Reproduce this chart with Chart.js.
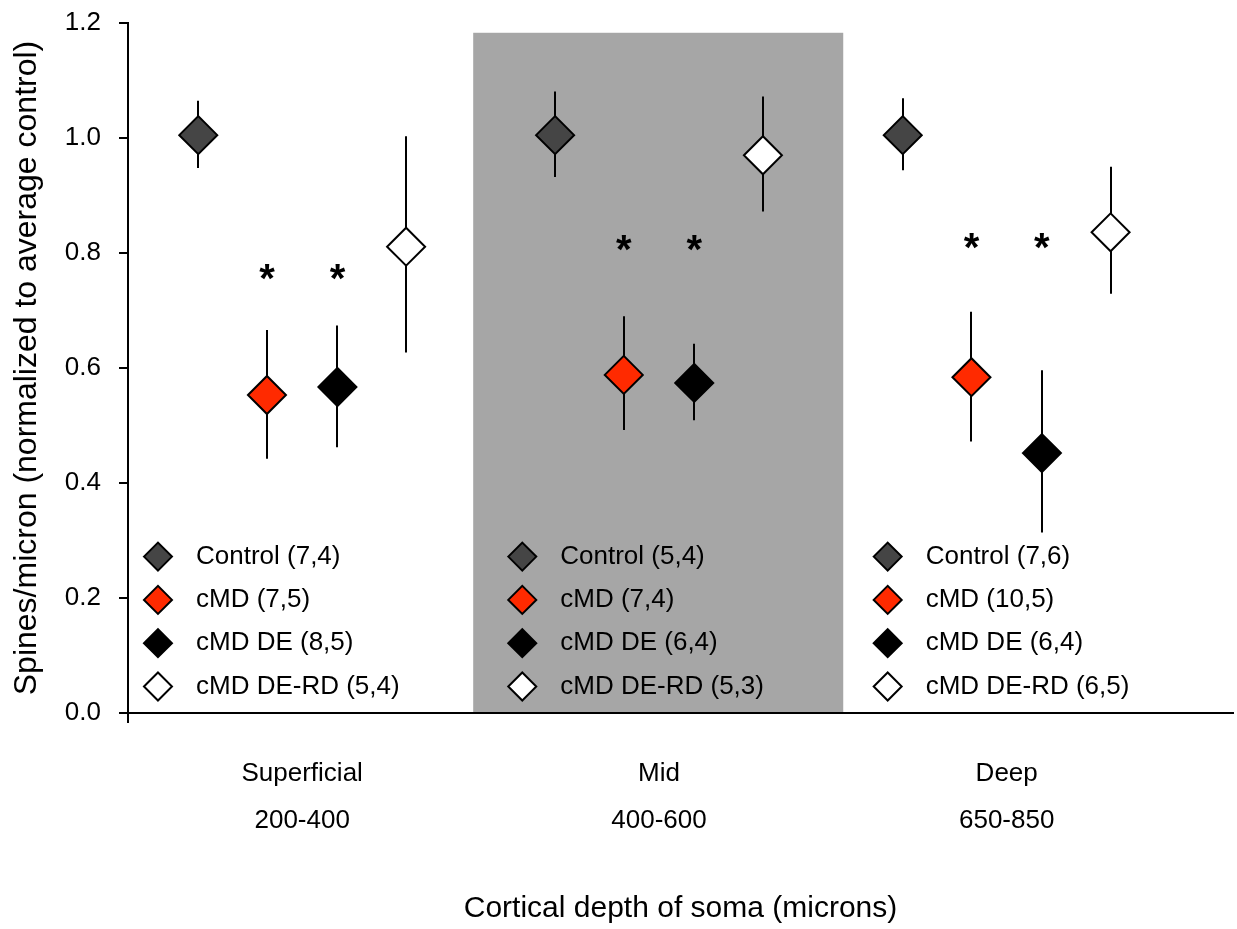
<!DOCTYPE html>
<html lang="en">
<head>
<meta charset="UTF-8">
<title>Spines/micron por profundidade cortical</title>
<script src="https://cdn.jsdelivr.net/npm/chart.js"></script>
<style>
  body { margin: 0; background: #fff; }
  #wrap { width: 1237px; height: 929px; position: relative; }
</style>
</head>
<body>
<div id="wrap"><canvas id="grafico"></canvas></div>
<script>
// groups along x
const grupos = ['Superficial', 'Mid', 'Deep'];
const faixas = ['200-400', '400-600', '650-850'];
const condicoes = ['Control', 'cMD', 'cMD DE', 'cMD DE-RD'];

// means (normalized to average control), one per group
const mediaControl = [1.005, 1.005, 1.005];
const mediaCMD = [0.553, 0.588, 0.584];
const mediaCMDDE = [0.567, 0.574, 0.452];
const mediaCMDDERD = [0.811, 0.970, 0.836];

// error bar ends
const altoControl = [1.065, 1.081, 1.069];
const baixoControl = [0.948, 0.932, 0.944];
const altoCMD = [0.666, 0.690, 0.698];
const baixoCMD = [0.442, 0.492, 0.472];
const altoCMDDE = [0.674, 0.642, 0.596];
const baixoCMDDE = [0.462, 0.509, 0.314];
const altoCMDDERD = [1.003, 1.072, 0.950];
const baixoCMDDERD = [0.627, 0.872, 0.729];

// (cells, animals) shown in each legend
const nControl = ['7,4', '5,4', '7,6'];
const nCMD = ['7,5', '7,4', '10,5'];
const nCMDDE = ['8,5', '6,4', '6,4'];
const nCMDDERD = ['5,4', '5,3', '6,5'];

// asterisks over cMD and cMD DE
const asteriscoY = [0.773, 0.822, 0.826];

const yTicks = [0, 0.2, 0.4, 0.6, 0.8, 1.0, 1.2];

const cores = ['#454545', '#ff2a00', '#000000', '#ffffff'];
const medias = [mediaControl, mediaCMD, mediaCMDDE, mediaCMDDERD];
const altos = [altoControl, altoCMD, altoCMDDE, altoCMDDERD];
const baixos = [baixoControl, baixoCMD, baixoCMDDE, baixoCMDDERD];
const ns = [nControl, nCMD, nCMDDE, nCMDDERD];

// layout helpers (x in group units)
const posGrupo = [1, 2.013, 3];
const desloc = [-0.295, -0.1, 0.1, 0.295];
const xMin = 0.5055, xMax = 3.6425;
const faixaCinza = [1.4855, 2.536, 1.183];
const legendaX = [0.5906, 1.6248, 2.6622];
const fonte = 'Liberation Sans, Arial, sans-serif';

const datasets = condicoes.map(function (c, k) {
    return {
        label: c,
        data: posGrupo.map(function (g, i) {
            return { x: g + desloc[k], y: medias[k][i], hi: altos[k][i], lo: baixos[k][i] };
        }),
        backgroundColor: cores[k],
        borderColor: '#000',
        pointStyle: 'rectRot',
        pointRadius: 19,
        pointBorderWidth: 2,
        showLine: false
    };
});

function losango(ctx, x, y, r, cor) {
    ctx.beginPath();
    ctx.moveTo(x - r, y);
    ctx.lineTo(x, y - r);
    ctx.lineTo(x + r, y);
    ctx.lineTo(x, y + r);
    ctx.closePath();
    ctx.fillStyle = cor;
    ctx.fill();
    ctx.lineWidth = 2;
    ctx.strokeStyle = '#000';
    ctx.stroke();
}

const extras = {
    id: 'extras',
    beforeDraw(chart) {
        const { ctx, scales: { x, y } } = chart;
        ctx.save();
        ctx.fillStyle = '#a6a6a6';
        const x0 = x.getPixelForValue(faixaCinza[0]);
        const x1 = x.getPixelForValue(faixaCinza[1]);
        const y0 = y.getPixelForValue(faixaCinza[2]);
        const y1 = y.getPixelForValue(0);
        ctx.fillRect(x0, y0, x1 - x0, y1 - y0);
        ctx.restore();
    },
    beforeDatasetsDraw(chart) {
        const { ctx, scales: { x, y } } = chart;
        ctx.save();
        ctx.strokeStyle = '#000';
        ctx.lineWidth = 2;
        chart.data.datasets.forEach(function (ds) {
            ds.data.forEach(function (p) {
                const px = Math.round(x.getPixelForValue(p.x));
                ctx.beginPath();
                ctx.moveTo(px, y.getPixelForValue(p.hi));
                ctx.lineTo(px, y.getPixelForValue(p.lo));
                ctx.stroke();
            });
        });
        ctx.restore();
    },
    afterDraw(chart) {
        const { ctx, chartArea, scales: { x, y } } = chart;
        ctx.save();
        // asterisks
        ctx.fillStyle = '#000';
        ctx.font = 'bold 40px ' + fonte;
        ctx.textAlign = 'center';
        ctx.textBaseline = 'alphabetic';
        posGrupo.forEach(function (g, i) {
            [1, 2].forEach(function (k) {
                ctx.fillText('*', x.getPixelForValue(g + desloc[k]), y.getPixelForValue(asteriscoY[i]) + 23);
            });
        });
        // legends, one per group
        ctx.font = '26px ' + fonte;
        ctx.textAlign = 'left';
        ctx.textBaseline = 'middle';
        legendaX.forEach(function (lx, i) {
            const mx = x.getPixelForValue(lx);
            condicoes.forEach(function (c, k) {
                const my = chartArea.bottom - 26.5 - (3 - k) * 43.3;
                losango(ctx, mx, my, 14, cores[k]);
                ctx.fillStyle = '#000';
                ctx.fillText(c + ' (' + ns[k][i] + ')', mx + 38, my);
            });
        });
        ctx.restore();
    }
};

new Chart(document.getElementById('grafico'), {
    type: 'scatter',
    data: { datasets: datasets },
    plugins: [extras],
    options: {
        responsive: true,
        maintainAspectRatio: false,
        animation: false,
        events: [],
        layout: { autoPadding: false, padding: { top: 23, right: 4, left: 0, bottom: 0 } },
        plugins: { legend: { display: false }, tooltip: { enabled: false } },
        scales: {
            x: {
                type: 'linear',
                min: xMin,
                max: xMax,
                afterFit: function (s) {
                    s.height = 216;
                    s.paddingLeft = 0;
                    s.paddingRight = 0;
                },
                afterBuildTicks: function (s) {
                    s.ticks = [xMin].concat(posGrupo).map(function (v) { return { value: v }; });
                },
                ticks: {
                    autoSkip: false,
                    maxRotation: 0,
                    padding: 27,
                    color: '#000',
                    font: { family: fonte, size: 26, lineHeight: 1.81 },
                    callback: function (v, i) {
                        if (i === 0) return '';
                        return [grupos[i - 1], faixas[i - 1]];
                    }
                },
                grid: {
                    drawOnChartArea: false,
                    tickLength: 10,
                    lineWidth: 2,
                    tickColor: function (c) { return c.index === 0 ? '#000' : 'rgba(0,0,0,0)'; }
                },
                border: { color: '#000', width: 2 },
                title: {
                    display: true,
                    text: 'Cortical depth of soma (microns)',
                    color: '#000',
                    font: { family: fonte, size: 30 },
                    padding: { top: 2, bottom: 2 }
                }
            },
            y: {
                min: 0,
                max: 1.2,
                afterFit: function (s) {
                    s.width = 128;
                    s.paddingTop = 0;
                    s.paddingBottom = 0;
                },
                afterBuildTicks: function (s) {
                    s.ticks = yTicks.map(function (v) { return { value: v }; });
                },
                ticks: {
                    padding: 18,
                    color: '#000',
                    font: { family: fonte, size: 26 },
                    callback: function (v) { return v.toFixed(1); }
                },
                grid: {
                    drawOnChartArea: false,
                    tickLength: 9,
                    lineWidth: 2,
                    color: '#000'
                },
                border: { color: '#000', width: 2 },
                title: {
                    display: true,
                    text: 'Spines/micron (normalized to average control)',
                    color: '#000',
                    font: { family: fonte, size: 32 },
                    padding: { top: 8, bottom: 0 }
                }
            }
        }
    }
});
</script>
</body>
</html>
